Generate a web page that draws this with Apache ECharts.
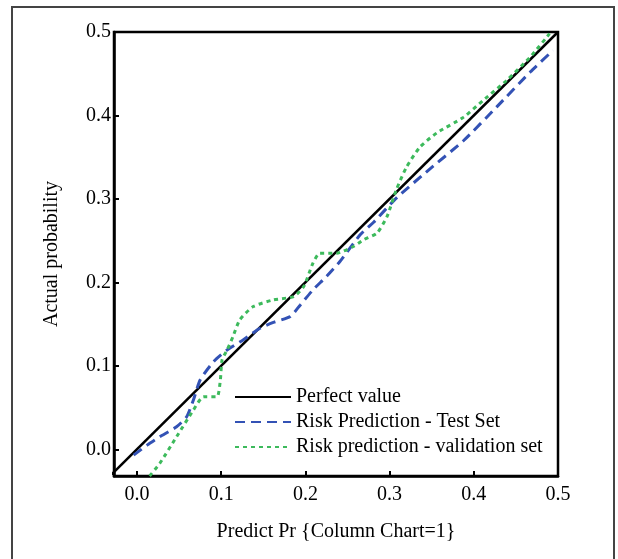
<!DOCTYPE html>
<html>
<head>
<meta charset="utf-8">
<script src="https://cdn.jsdelivr.net/npm/echarts@6/dist/echarts.min.js"></script>
<style>
    html, body { margin: 0; padding: 0; background: #fff; }
    #chart { width: 618px; height: 559px; }
</style>
</head>
<body>
<div id="chart"></div>
<script>
// axis ticks
var tickValues = [0, 0.1, 0.2, 0.3, 0.4, 0.5];

// series data
var perfectData = [[-0.04, -0.04], [0.5, 0.5]];

var testSetData = [
    [-0.004, -0.007], [0.012, 0.005], [0.027, 0.015], [0.047, 0.027],
    [0.059, 0.039], [0.067, 0.059], [0.075, 0.083], [0.091, 0.105],
    [0.107, 0.119], [0.126, 0.131], [0.146, 0.145], [0.162, 0.152],
    [0.182, 0.159], [0.194, 0.173], [0.209, 0.191], [0.225, 0.207],
    [0.241, 0.225], [0.265, 0.257], [0.281, 0.272], [0.308, 0.301],
    [0.348, 0.336], [0.388, 0.370], [0.427, 0.410], [0.467, 0.452],
    [0.494, 0.478]
];

var validationData = [
    [0.015, -0.032], [0.027, -0.017], [0.047, 0.015], [0.067, 0.047],
    [0.079, 0.063], [0.095, 0.063], [0.099, 0.083], [0.101, 0.107],
    [0.107, 0.119], [0.114, 0.135], [0.122, 0.155], [0.138, 0.171],
    [0.162, 0.179], [0.186, 0.183], [0.198, 0.195], [0.209, 0.223],
    [0.217, 0.235], [0.237, 0.235], [0.257, 0.243], [0.269, 0.251],
    [0.285, 0.259], [0.297, 0.279], [0.308, 0.311], [0.320, 0.338],
    [0.336, 0.362], [0.356, 0.379], [0.388, 0.398], [0.411, 0.418],
    [0.439, 0.442], [0.467, 0.470], [0.490, 0.498]
];

var seriesNames = ['Perfect value', 'Risk Prediction - Test Set', 'Risk prediction - validation set'];

var font = 'Liberation Serif';

function fmt(v) {
    return v.toFixed(1);
}

var chart = echarts.init(document.getElementById('chart'));
chart.setOption({
    animation: false,
    textStyle: { fontFamily: font, color: '#000' },
    graphic: [{
        type: 'rect',
        shape: { x: 12, y: 7, width: 602, height: 570 },
        style: { fill: 'none', stroke: '#444', lineWidth: 2 },
        silent: true
    }],
    grid: {
        left: 114, top: 32, width: 444, height: 444,
        show: true, borderColor: '#000', borderWidth: 2.5,
        backgroundColor: 'transparent'
    },
    legend: {
        orient: 'vertical',
        left: 229, top: 382,
        itemWidth: 56, itemHeight: 14, itemGap: 5,
        itemStyle: { opacity: 0 },
        textStyle: { fontFamily: font, fontSize: 20, color: '#000' },
        data: seriesNames
    },
    xAxis: {
        type: 'value',
        min: -0.0273, max: 0.5,
        name: 'Predict Pr {Column Chart=1}',
        nameLocation: 'middle', nameGap: 46,
        nameTextStyle: { fontFamily: font, fontSize: 20, color: '#000' },
        splitLine: { show: false },
        axisLine: { show: true, onZero: false, lineStyle: { color: '#000', width: 2.5 } },
        axisTick: { inside: true, length: 5, lineStyle: { color: '#000', width: 2 }, customValues: tickValues },
        axisLabel: { customValues: tickValues, formatter: fmt, margin: 9, fontFamily: font, fontSize: 20, color: '#000' }
    },
    yAxis: {
        type: 'value',
        min: -0.032, max: 0.5,
        name: 'Actual probability',
        nameLocation: 'middle', nameGap: 52,
        nameTextStyle: { fontFamily: font, fontSize: 20, color: '#000' },
        splitLine: { show: false },
        axisLine: { show: true, onZero: false, lineStyle: { color: '#000', width: 2.5 } },
        axisTick: { inside: true, length: 5, lineStyle: { color: '#000', width: 2 }, customValues: tickValues },
        axisLabel: { customValues: tickValues, formatter: fmt, margin: 3, fontFamily: font, fontSize: 20, color: '#000' }
    },
    series: [{
        name: seriesNames[0],
        type: 'line',
        data: perfectData,
        symbol: 'none',
        color: '#000',
        lineStyle: { color: '#000', width: 2.5 }
    }, {
        name: seriesNames[1],
        type: 'line',
        data: testSetData,
        symbol: 'none',
        smooth: 0.2,
        color: '#3352b5',
        lineStyle: { color: '#3352b5', width: 3, type: [10, 6] }
    }, {
        name: seriesNames[2],
        type: 'line',
        data: validationData,
        symbol: 'none',
        smooth: 0.2,
        color: '#3dba5c',
        lineStyle: { color: '#3dba5c', width: 3, type: [4, 4] }
    }]
});
</script>
</body>
</html>
